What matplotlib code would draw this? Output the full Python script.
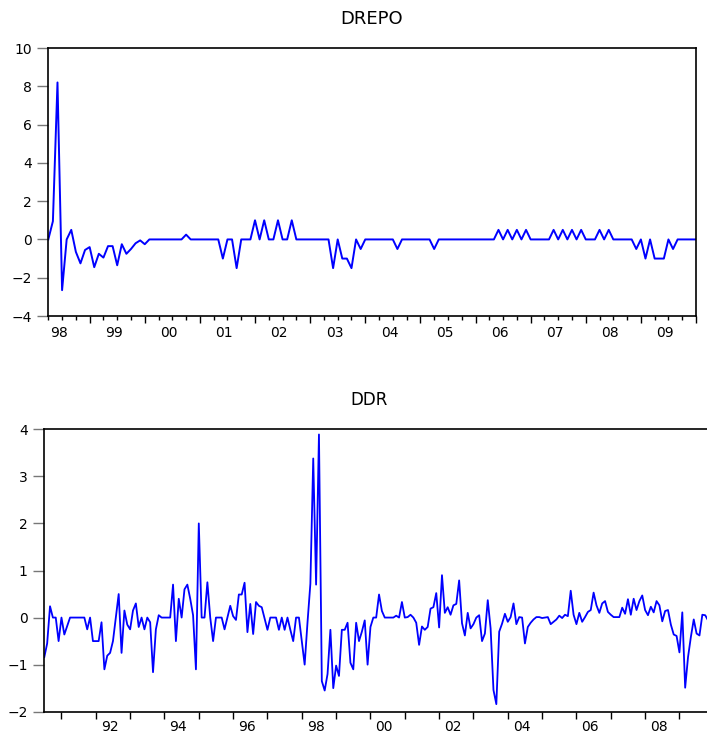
import matplotlib.pyplot as plt
from matplotlib.ticker import MultipleLocator

# DREPO, monthly from 1998M04
drepo = [0, 0.95, 8.2, -2.65, 0, 0.5, -0.65, -1.25, -0.55, -0.4,
         -1.45, -0.75, -0.95, -0.35, -0.35, -1.35, -0.25, -0.75, -0.5, -0.2,
         -0.05, -0.25, 0, 0, 0, 0, 0, 0, 0, 0,
         0.25, 0, 0, 0, 0, 0, 0, 0, -1.0, 0,
         0, -1.5, 0, 0, 0, 1.0, 0, 1.0, 0, 0,
         1.0, 0, 0, 1.0, 0, 0, 0, 0, 0, 0,
         0, 0, -1.5, 0, -1.0, -1.0, -1.5, 0, -0.5, 0,
         0, 0, 0, 0, 0, 0, -0.5, 0, 0, 0,
         0, 0, 0, 0, -0.5, 0, 0, 0, 0, 0,
         0, 0, 0, 0, 0, 0, 0, 0, 0.5, 0,
         0.5, 0, 0.5, 0, 0.5, 0, 0, 0, 0, 0,
         0.5, 0, 0.5, 0, 0.5, 0, 0.5, 0, 0, 0,
         0.5, 0, 0.5, 0, 0, 0, 0, 0, -0.5, 0,
         -1.0, 0, -1.0, -1.0, -1.0, 0, -0.5, 0, 0, 0,
         0, 0]
drepo_start = 1998.25
drepo_years = list(range(1998, 2010))

# DDR, monthly from 1990M07
ddr = [-0.84, -0.55, 0.24, 0, 0, -0.5, 0, -0.36, -0.18, 0,
       0, 0, 0, 0, 0, -0.25, 0, -0.5, -0.5, -0.5,
       -0.1, -1.1, -0.81, -0.75, -0.5, 0, 0.5, -0.75, 0.15, -0.15,
       -0.25, 0.15, 0.3, -0.2, 0, -0.25, 0, -0.1, -1.16, -0.25,
       0.05, 0, 0, 0, 0, 0.7, -0.5, 0.4, 0, 0.6,
       0.7, 0.4, 0.05, -1.1, 2.0, 0, 0, 0.75, 0, -0.5,
       0, 0, 0, -0.25, 0, 0.25, 0.03, -0.05, 0.49, 0.49,
       0.74, -0.31, 0.29, -0.35, 0.33, 0.25, 0.22, -0.02, -0.26, 0,
       0, 0, -0.26, 0, -0.26, 0, -0.26, -0.5, 0, 0,
       -0.5, -1.0, -0.1, 0.72, 3.38, 0.7, 3.89, -1.35, -1.55, -1.2,
       -0.26, -1.5, -1.02, -1.24, -0.26, -0.26, -0.11, -0.96, -1.1, -0.11,
       -0.5, -0.3, -0.06, -1.0, -0.2, 0, 0, 0.49, 0.14, 0,
       0, 0, 0, 0.04, 0, 0.33, 0, 0.01, 0.06, 0,
       -0.11, -0.58, -0.19, -0.26, -0.2, 0.19, 0.22, 0.52, -0.21, 0.9,
       0.1, 0.22, 0.06, 0.26, 0.29, 0.79, -0.12, -0.38, 0.1, -0.23,
       -0.14, 0, 0.05, -0.5, -0.34, 0.37, -0.23, -1.54, -1.84, -0.3,
       -0.13, 0.08, -0.09, 0.01, 0.3, -0.14, 0.01, 0, -0.55, -0.2,
       -0.11, -0.04, 0.01, 0.01, -0.01, 0, 0.01, -0.14, -0.09, -0.04,
       0.04, -0.01, 0.06, 0.03, 0.57, 0.06, -0.14, 0.1, -0.09, 0.01,
       0.12, 0.16, 0.53, 0.26, 0.1, 0.3, 0.35, 0.12, 0.06, 0.01,
       0.01, 0.01, 0.21, 0.08, 0.39, 0.06, 0.4, 0.16, 0.35, 0.47,
       0.16, 0.05, 0.23, 0.11, 0.35, 0.26, -0.08, 0.14, 0.16, -0.15,
       -0.36, -0.39, -0.74, 0.11, -1.49, -0.84, -0.41, -0.04, -0.34, -0.38,
       0.06, 0.05, -0.06]
ddr_start = 1990.5
ddr_years = list(range(1992, 2010, 2))

W, H = 707, 733
fig = plt.figure(figsize=(W / 100, H / 100), dpi=100)


def box(l, t, r, b):
    return [l / W, 1 - b / H, (r - l) / W, (b - t) / H]


def style(ax):
    for s in ax.spines.values():
        s.set_linewidth(1.2)
    ax.tick_params(axis='y', direction='out', length=8, width=1, color='#777777',
                   labelsize=10, pad=4)
    ax.tick_params(axis='x', which='major', direction='out', length=5, width=1,
                   labelbottom=False)
    ax.tick_params(axis='x', which='minor', direction='out', length=3, width=1)


# top panel
ax1 = fig.add_axes(box(48.3, 48, 696, 316))
x1 = [drepo_start + i / 12 for i in range(len(drepo))]
ax1.plot(x1, drepo, color='#0000ff', lw=1.4)
ax1.set_xlim(drepo_start, 2010.0)
ax1.set_ylim(-4, 10)
ax1.yaxis.set_major_locator(MultipleLocator(2))
ax1.xaxis.set_major_locator(MultipleLocator(1))
ax1.xaxis.set_minor_locator(MultipleLocator(0.25))
style(ax1)
for y in drepo_years:
    ax1.annotate(f"{y % 100:02d}", xy=(y + 0.44, 0), xycoords=('data', 'axes fraction'),
                 xytext=(0, -7), textcoords='offset points', ha='center', va='top',
                 fontsize=10)
fig.text(372 / W, 1 - 19 / H, "DREPO", ha='center', va='center', fontsize=13)

# bottom panel
ax2 = fig.add_axes(box(44.3, 429.3, W, 711.7))
x2 = [ddr_start + i / 12 for i in range(len(ddr))]
ax2.plot(x2, ddr, color='#0000ff', lw=1.3)
ax2.set_xlim(ddr_start, ddr_start + (W - 44.3) / 2.861 / 12)
ax2.set_ylim(-2, 4)
ax2.yaxis.set_major_locator(MultipleLocator(1))
ax2.xaxis.set_major_locator(MultipleLocator(1))
style(ax2)
ax2.spines['right'].set_visible(False)
for y in ddr_years:
    ax2.annotate(f"{y % 100:02d}", xy=(y + 0.4, 0), xycoords=('data', 'axes fraction'),
                 xytext=(0, -6), textcoords='offset points', ha='center', va='top',
                 fontsize=10)
fig.text(369.5 / W, 1 - 400 / H, "DDR", ha='center', va='center', fontsize=12)

fig.savefig("out.png", dpi=100)
